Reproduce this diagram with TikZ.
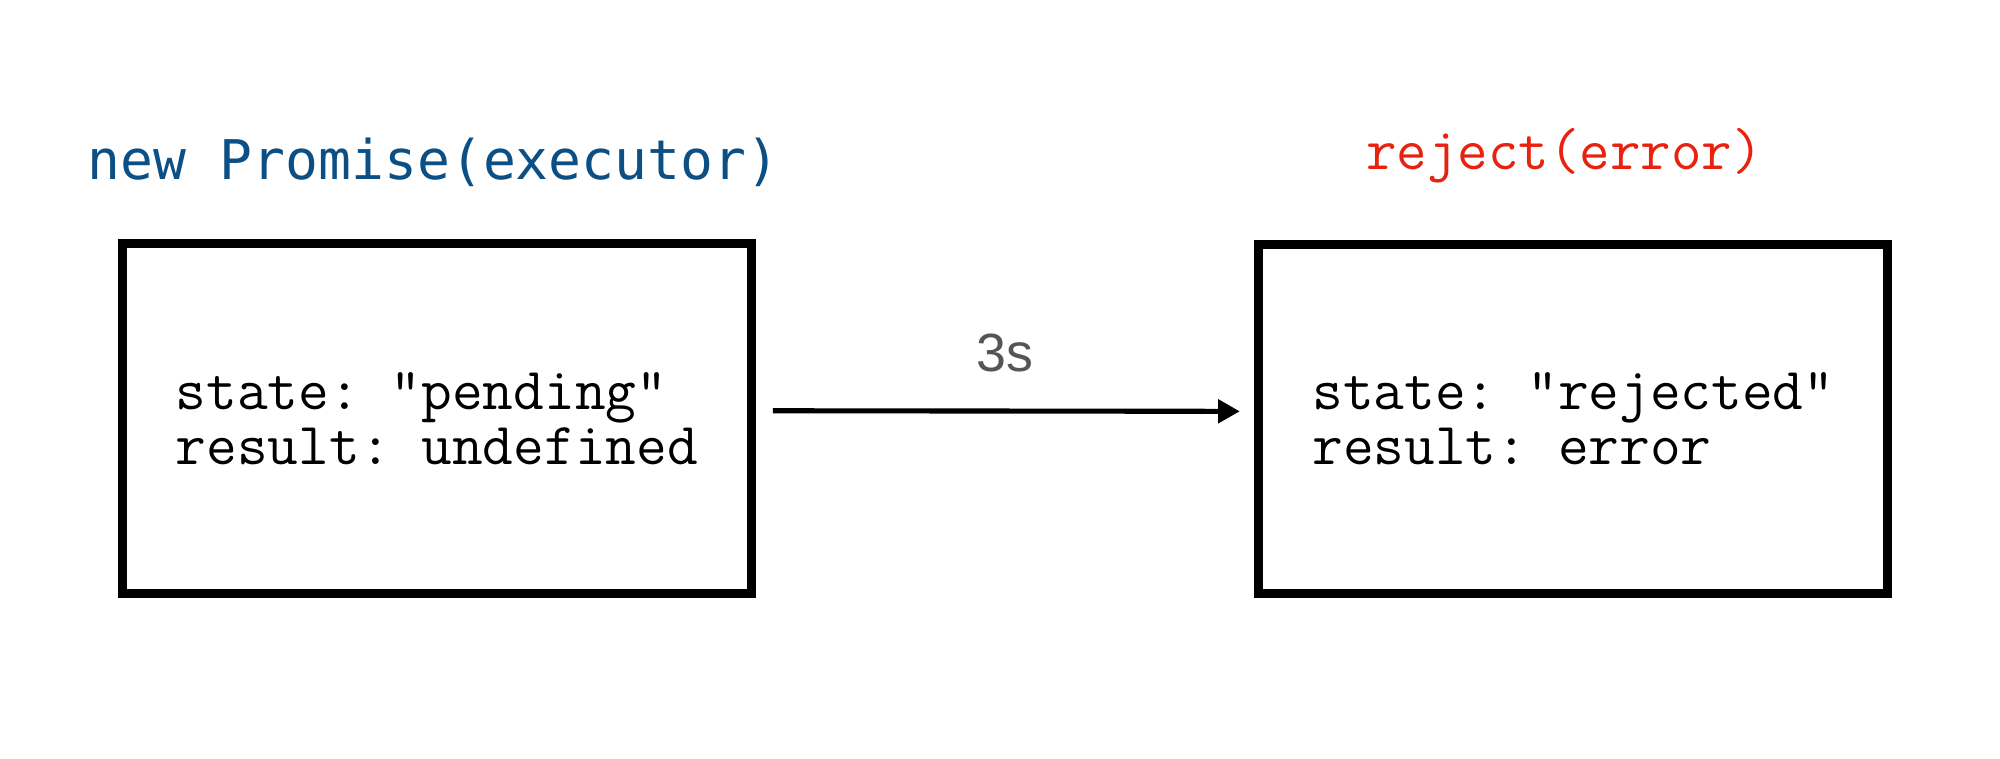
\documentclass[tikz,border=0pt]{standalone}
\usepackage{fontspec}
\setsansfont{Liberation Sans}
\newfontfamily\codefont{DejaVu Sans Mono}
\usepackage{xcolor}
\usepackage{tikz}
\usetikzlibrary{arrows.meta}

\definecolor{promblue}{HTML}{0B4F84}
\definecolor{rejred}{HTML}{E8220F}
\definecolor{delaygray}{HTML}{555555}

\begin{document}
\frenchspacing
\begin{tikzpicture}[x=0.2mm,y=-0.2mm,
state/.style={draw,line width=1.4mm,minimum width=98.6mm,minimum height=54.8mm,
  align=left,font=\ttfamily\fontsize{26.6}{24.4}\selectfont},
head/.style={inner sep=0mm,font=\fontsize{25.8}{30}\selectfont},
arr/.style={line width=0.8mm,-{Triangle[length=3.4mm,width=3.6mm]}}
]
\useasboundingbox (0,0) rectangle (1568,595);

\path (342.5,328) node[state] (pend) {state: "pending"\\result: undefined}
      (1233.5,328.5) node[state] (rej) {state: "rejected"\\result: error};

\path (340,127) node[head,text=promblue,font=\codefont\fontsize{24.4}{30}\selectfont] (exec) {new Promise(executor)}
      (1226.5,122) node[head,text=rejred,font=\ttfamily\fontsize{26.4}{30}\selectfont] (rejcall) {reject(error)};

\draw[arr,shorten <=2.7mm,shorten >=2.3mm] ([yshift=1.2mm]pend.east) -- ([yshift=1.2mm]rej.west)
  node[midway,above=4.5mm,text=delaygray,font=\sffamily\fontsize{24}{28}\selectfont] (delay) {3s};
% \draw[dashed,thin] (pend.north) -- (exec.south);
\end{tikzpicture}
\end{document}
